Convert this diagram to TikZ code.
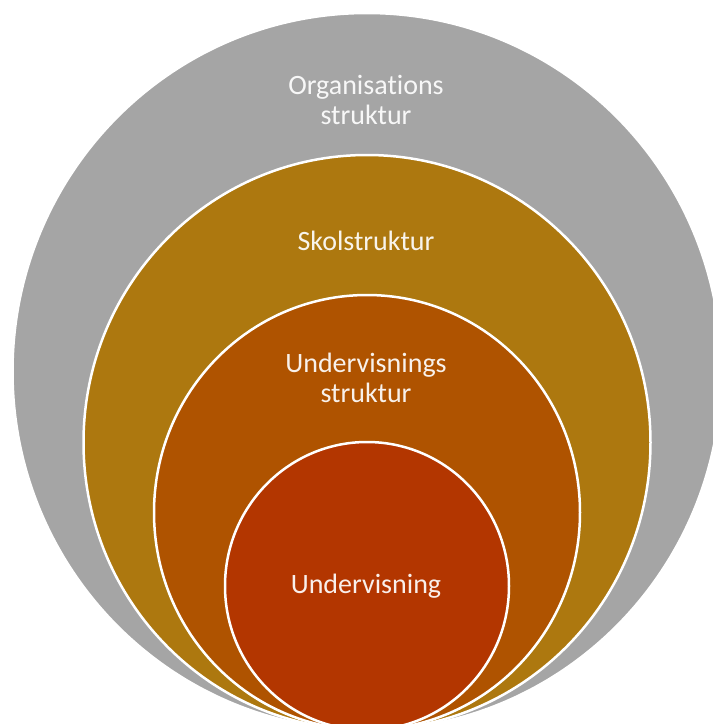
\documentclass[tikz,border=0pt]{standalone}
\usepackage{fontspec}
\setmainfont{Carlito}[Ligatures=NoCommon]
\definecolor{orggrey}{HTML}{A5A5A5}
\definecolor{skolgold}{HTML}{AD780F}
\definecolor{strukorange}{HTML}{AF5300}
\definecolor{underred}{HTML}{B33600}
\begin{document}
\begin{tikzpicture}[x=1pt,y=-1pt,
  ring/.style={draw=white,line width=2.5pt},
  caption/.style={text=white,text opacity=0.92,align=center,anchor=base,
    font=\fontsize{28}{30}\selectfont}]
\useasboundingbox (0,0) rectangle (713,724);
\fill[white] (0,0) rectangle (713,724);
\filldraw[ring,fill=orggrey] (367,371.5) ellipse [x radius=354.5,y radius=358.5];
\filldraw[ring,fill=skolgold] (367,442.5) ellipse [x radius=283.5,y radius=287.5];
\filldraw[ring,fill=strukorange] (367,512.5) ellipse [x radius=213,y radius=217.5];
\filldraw[ring,fill=underred] (367,586) ellipse [x radius=142,y radius=144];
\node[caption] (org) at (366,124) {Organisations\\struktur};
\node[caption] (skol) at (366,250) {Skolstruktur};
\node[caption] (undstruk) at (366,402) {Undervisnings\\struktur};
\node[caption] (und) at (366,593) {Undervisning};
\end{tikzpicture}
\end{document}
